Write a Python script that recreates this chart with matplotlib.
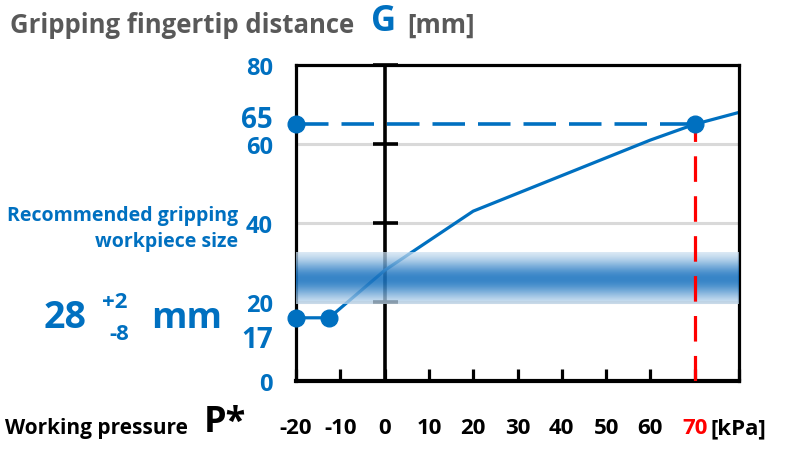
import numpy as np
import matplotlib
matplotlib.use('Agg')
import matplotlib.pyplot as plt
import matplotlib.transforms as mtransforms
from matplotlib.colors import to_rgb

plt.rcParams['font.family'] = ['Open Sans', 'DejaVu Sans']
plt.rcParams['font.weight'] = 'bold'

BLUE = '#0070C0'
RED = '#FF0000'
GRAY = '#595959'
W, H = 792, 452

# data
pressure = [-20, -12.5, 0, 20, 40, 60, 70, 80]
distance = [16, 16, 28, 43, 52, 61, 65, 68]
marker_x = [-20, -12.5, -20, 70]
marker_y = [16, 16, 65, 65]
target_pressure = 70
target_distance = 65

xticks = [-20, -10, 0, 10, 20, 30, 40, 50, 60, 70, 80]
xtick_labels = ['-20', '-10', '0', '10', '20', '30', '40', '50', '60', '70', '']
ytick_values = [0, 17, 20, 40, 60, 65, 80]
ytick_labels = ['0', '17', '20', '40', '60', '65', '80']
gridlines = [20, 40, 60]
axis_marks = [20, 40, 60, 80]

band_low, band_high, band_mid = 19.5, 32.5, 25.8


def fx(px):
    return px / W


def fy(py):
    return 1 - py / H


fig = plt.figure(figsize=(W / 100, H / 100), dpi=100)
ax = fig.add_axes([fx(296), fy(382), fx(739) - fx(296), fy(66) - fy(382)])
ax.set_xlim(-20, 80)
ax.set_ylim(0, 80)

# grid
ax.hlines(gridlines, -20, 80, colors='#D9D9D9', lw=2.2, zorder=1)

# y axis drawn at x = 0
ax.axvline(0, color='black', lw=2.6, zorder=2)
ax.plot([0] * len(axis_marks), axis_marks, ls='none', marker='_',
        ms=18, mew=2.6, color='black', zorder=2, clip_on=False)

# curve
ax.plot(pressure, distance, color=BLUE, lw=2.3, zorder=2)

# recommended band
yy = np.linspace(band_low, band_high, 200)
w = np.exp(-0.5 * ((yy - band_mid) / 3.8) ** 2)
blue_rgb = np.array(to_rgb('#1C74C0'))
rgb = (1 - w)[:, None] * np.ones(3) + w[:, None] * blue_rgb
img = np.zeros((len(yy), 2, 4))
img[:, :, :3] = rgb[:, None, :]
img[:, :, 3] = 0.68 + 0.2 * w[:, None]
ax.imshow(img, extent=[-20, 80, band_low, band_high], origin='lower',
          aspect='auto', interpolation='bilinear', zorder=3)

# reference lines
ax.plot([-20, target_pressure], [target_distance, target_distance],
        color=BLUE, lw=2.6, dashes=(9, 3.6), zorder=4, clip_on=False)
ax.plot([target_pressure, target_pressure], [0, target_distance],
        color=RED, lw=2.3, dashes=(8, 4.5), zorder=4)
ax.plot(marker_x, marker_y, ls='none', marker='o', ms=12,
        color=BLUE, zorder=5, clip_on=False)

# frame and ticks
for s in ax.spines.values():
    s.set_linewidth(2.3)
    s.set_color('black')
ax.spines['bottom'].set_linewidth(3)
ax.set_xticks(xticks)
ax.set_xticklabels([])
ax.set_yticks([])
ax.tick_params(axis='x', direction='in', length=9, width=2.3, color='black')

# x tick labels (baseline at pixel row 434)
xtrans = mtransforms.blended_transform_factory(ax.transData, fig.transFigure)
for v, lab in zip(xticks, xtick_labels):
    ax.text(v, fy(434), lab, transform=xtrans, ha='center', va='baseline',
            fontsize=16, fontweight='bold',
            color=RED if v == target_pressure else 'black')
fig.text(fx(710), fy(434), '[kPa]', fontsize=16, fontweight='bold',
         color='black', ha='left', va='baseline')

# y tick labels
y_offsets = {65: 8, 17: -22}
for v, lab in zip(ytick_values, ytick_labels):
    size = 20 if v in y_offsets else 17
    ax.annotate(lab, xy=(0, v), xycoords=('axes fraction', 'data'),
                xytext=(-23 * 0.72, y_offsets.get(v, 0) * 0.72), textcoords='offset points',
                ha='right', va='center_baseline', fontsize=size,
                fontweight='bold', color=BLUE)

# titles and notes
fig.text(fx(10), fy(33), 'Gripping fingertip distance', fontsize=18.5,
         fontweight='bold', color=GRAY, ha='left', va='baseline')
fig.text(fx(371), fy(31), 'G', fontsize=25, fontweight='bold',
         color=BLUE, ha='left', va='baseline')
fig.text(fx(407), fy(33), '[mm]', fontsize=18.5, fontweight='bold',
         color=GRAY, ha='left', va='baseline')

fig.text(fx(238), fy(221), 'Recommended gripping', fontsize=14,
         fontweight='bold', color=BLUE, ha='right', va='baseline')
fig.text(fx(238), fy(247), 'workpiece size', fontsize=14,
         fontweight='bold', color=BLUE, ha='right', va='baseline')
fig.text(fx(44), fy(328), '28', fontsize=27, fontweight='bold',
         color=BLUE, ha='left', va='baseline')
fig.text(fx(115), fy(308), '+2', fontsize=16, fontweight='bold',
         color=BLUE, ha='center', va='baseline')
fig.text(fx(119), fy(340), '-8', fontsize=16, fontweight='bold',
         color=BLUE, ha='center', va='baseline')
fig.text(fx(151), fy(328), 'mm', fontsize=26, fontweight='bold',
         color=BLUE, ha='left', va='baseline')

fig.text(fx(5), fy(434), 'Working pressure', fontsize=15,
         fontweight='bold', color='black', ha='left', va='baseline')
fig.text(fx(204), fy(432), 'P*', fontsize=26, fontweight='bold',
         color='black', ha='left', va='baseline')

fig.savefig('out.png', dpi=100)
